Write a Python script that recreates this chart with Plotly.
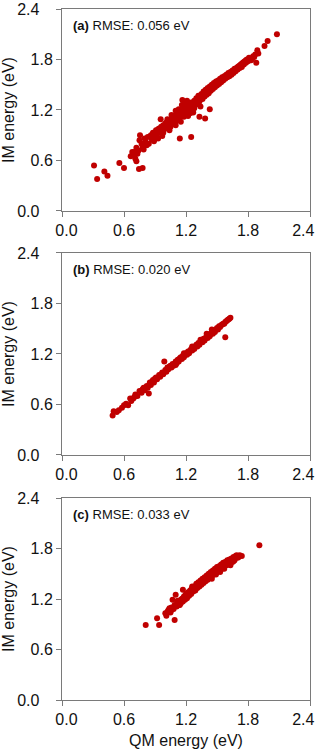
import plotly.graph_objects as go
from plotly.subplots import make_subplots

# (QM energy, IM energy) pairs, eV
points_a = [
    (0.31, 0.54), (0.34, 0.38), (0.41, 0.47), (0.44, 0.42), (0.555, 0.57), (0.60, 0.51),
    (0.745, 0.50), (0.78, 0.51), (0.665, 0.65), (0.70, 0.70), (0.71, 0.62), (0.72, 0.59),
    (0.755, 0.90), (1.14, 0.86), (1.25, 0.88), (1.385, 1.10), (1.43, 1.21), (1.33, 1.12),
    (2.08, 2.10), (1.99, 2.02), (1.96, 1.96), (1.89, 1.91), (1.88, 1.76), (0.955, 1.09),
    (1.165, 1.32), (0.97, 0.89),
    (0.68, 0.70), (0.70, 0.66), (0.72, 0.75), (0.74, 0.72), (0.75, 0.84), (0.77, 0.80),
    (0.78, 0.76), (0.80, 0.86), (0.81, 0.82), (0.83, 0.88), (0.84, 0.80), (0.86, 0.90),
    (0.87, 0.85), (0.88, 0.93), (0.90, 0.88), (0.91, 0.96), (0.92, 0.91), (0.93, 0.86),
    (0.94, 0.98), (0.95, 0.94), (0.96, 1.00), (0.97, 0.95), (0.98, 1.02), (0.99, 0.97),
    (1.00, 1.04), (1.01, 0.99), (1.02, 1.06), (1.03, 1.01), (1.04, 0.96), (1.05, 1.08),
    (1.06, 1.03), (1.07, 1.10), (1.08, 1.05), (1.09, 1.13), (1.10, 1.07), (1.11, 1.15),
    (1.12, 1.10), (1.13, 1.18), (1.14, 1.12), (1.15, 1.06), (1.16, 1.20), (1.17, 1.14),
    (1.18, 1.22), (1.19, 1.17), (1.20, 1.25), (1.21, 1.19), (1.22, 1.13), (1.23, 1.27),
    (1.24, 1.21), (1.25, 1.29), (1.26, 1.23), (1.27, 1.17), (1.28, 1.31), (1.29, 1.26),
    (1.30, 1.34), (1.31, 1.28), (1.32, 1.37), (1.33, 1.30), (1.34, 1.24), (1.35, 1.39),
    (1.36, 1.33), (1.37, 1.42), (1.38, 1.36), (1.39, 1.44), (1.40, 1.38), (1.41, 1.46),
    (1.42, 1.40), (1.43, 1.48), (1.44, 1.43), (1.45, 1.50), (1.46, 1.45), (1.47, 1.52),
    (1.48, 1.47), (1.49, 1.54), (1.50, 1.49), (1.51, 1.55), (1.52, 1.51), (1.53, 1.57),
    (1.54, 1.53), (1.55, 1.59), (1.56, 1.55), (1.57, 1.60), (1.58, 1.57), (1.59, 1.62),
    (1.60, 1.59), (1.61, 1.64), (1.62, 1.60), (1.63, 1.65), (1.64, 1.62), (1.65, 1.67),
    (1.66, 1.64), (1.67, 1.69), (1.68, 1.66), (1.69, 1.70), (1.70, 1.68), (1.71, 1.72),
    (1.72, 1.70), (1.73, 1.74), (1.74, 1.71), (1.75, 1.76), (1.76, 1.74), (1.77, 1.78),
    (1.78, 1.76), (1.79, 1.80), (1.80, 1.78), (1.82, 1.81), (1.83, 1.79), (1.85, 1.84),
    (1.87, 1.86),
    (1.05, 1.00), (1.08, 1.11), (1.10, 1.02), (1.12, 1.16), (1.15, 1.15), (1.18, 1.12),
    (1.20, 1.18), (1.22, 1.23), (1.24, 1.16), (1.26, 1.28), (1.28, 1.22), (1.30, 1.27),
    (1.32, 1.31), (1.34, 1.35), (1.36, 1.37), (1.38, 1.40), (1.40, 1.42), (1.42, 1.44),
    (1.44, 1.46), (1.46, 1.48), (1.48, 1.50), (1.50, 1.52), (1.52, 1.54), (1.54, 1.56),
    (1.56, 1.58), (1.58, 1.60), (1.60, 1.62), (1.62, 1.63), (1.64, 1.65), (1.66, 1.67),
    (1.68, 1.69), (1.70, 1.71), (1.72, 1.73), (1.74, 1.75), (1.76, 1.77), (1.78, 1.79),
    (1.81, 1.82), (1.84, 1.81), (1.86, 1.83), (1.90, 1.87), (1.13, 1.21), (1.19, 1.27),
    (1.02, 1.09), (0.98, 0.93), (0.89, 0.83), (0.82, 0.78), (0.79, 0.73), (0.73, 0.68),
    (1.10, 1.19), (1.16, 1.26), (1.21, 1.31), (1.06, 1.14), (1.01, 1.05), (0.93, 0.97),
]

points_b = [
    (0.99, 1.11), (0.84, 0.73), (1.58, 1.40), (0.49, 0.47), (0.50, 0.52), (0.55, 0.53),
    (0.58, 0.56), (0.62, 0.61), (0.64, 0.59), (0.67, 0.64), (0.69, 0.67), (0.71, 0.72),
    (0.73, 0.70), (0.75, 0.76), (0.77, 0.74), (0.79, 0.80), (0.80, 0.77), (0.82, 0.82),
    (0.83, 0.80), (0.85, 0.86), (0.86, 0.83), (0.88, 0.89), (0.89, 0.86), (0.91, 0.92),
    (0.92, 0.90), (0.94, 0.95), (0.95, 0.93), (0.97, 0.98), (0.98, 0.96), (1.00, 1.01),
    (1.01, 0.99), (1.02, 1.04), (1.03, 1.02), (1.05, 1.06), (1.06, 1.04), (1.07, 1.08),
    (1.08, 1.06), (1.10, 1.11), (1.11, 1.09), (1.12, 1.13), (1.13, 1.11), (1.15, 1.16),
    (1.16, 1.14), (1.17, 1.18), (1.18, 1.16), (1.20, 1.21), (1.21, 1.19), (1.22, 1.23),
    (1.23, 1.21), (1.25, 1.26), (1.26, 1.24), (1.27, 1.28), (1.28, 1.26), (1.30, 1.31),
    (1.31, 1.29), (1.32, 1.33), (1.33, 1.31), (1.35, 1.36), (1.36, 1.34), (1.37, 1.38),
    (1.38, 1.36), (1.40, 1.41), (1.41, 1.39), (1.42, 1.43), (1.43, 1.41), (1.45, 1.46),
    (1.46, 1.44), (1.47, 1.48), (1.48, 1.46), (1.50, 1.51), (1.51, 1.49), (1.52, 1.53),
    (1.54, 1.54), (1.56, 1.56), (1.58, 1.58), (1.60, 1.60), (1.62, 1.62), (1.63, 1.63),
    (0.70, 0.69), (0.78, 0.78), (0.87, 0.87), (0.96, 0.96), (1.04, 1.05), (1.09, 1.08),
    (1.14, 1.15), (1.19, 1.19), (1.24, 1.24), (1.29, 1.29), (1.34, 1.34), (1.39, 1.39),
    (1.44, 1.44), (1.49, 1.49), (1.53, 1.52), (1.57, 1.56), (1.55, 1.55), (1.59, 1.59),
    (1.61, 1.61), (1.45, 1.49), (0.66, 0.67), (0.60, 0.59), (0.53, 0.51),
    (1.18, 1.21), (1.26, 1.29), (1.34, 1.37), (1.40, 1.44), (1.10, 1.07), (0.90, 0.91),
]

points_c = [
    (0.81, 0.89), (0.94, 0.89), (0.92, 0.97), (1.09, 0.95), (1.91, 1.84), (1.07, 1.19),
    (1.10, 1.25), (1.17, 1.31), (1.00, 1.03), (1.01, 1.00), (1.03, 1.07), (1.05, 1.04),
    (1.06, 1.10), (1.08, 1.08), (1.09, 1.13), (1.11, 1.11), (1.12, 1.15), (1.13, 1.13),
    (1.14, 1.18), (1.15, 1.15), (1.16, 1.20), (1.17, 1.17), (1.18, 1.23), (1.19, 1.19),
    (1.20, 1.26), (1.21, 1.21), (1.22, 1.28), (1.23, 1.24), (1.24, 1.30), (1.25, 1.26),
    (1.26, 1.33), (1.27, 1.29), (1.28, 1.35), (1.29, 1.31), (1.30, 1.38), (1.31, 1.33),
    (1.32, 1.40), (1.33, 1.35), (1.34, 1.42), (1.35, 1.37), (1.36, 1.44), (1.37, 1.39),
    (1.38, 1.46), (1.39, 1.41), (1.40, 1.48), (1.41, 1.43), (1.42, 1.50), (1.43, 1.45),
    (1.44, 1.52), (1.45, 1.47), (1.46, 1.54), (1.47, 1.49), (1.48, 1.56), (1.49, 1.51),
    (1.50, 1.58), (1.51, 1.53), (1.52, 1.59), (1.53, 1.55), (1.54, 1.61), (1.55, 1.56),
    (1.56, 1.63), (1.57, 1.58), (1.58, 1.64), (1.59, 1.60), (1.60, 1.66), (1.61, 1.61),
    (1.62, 1.67), (1.63, 1.63), (1.64, 1.68), (1.65, 1.64), (1.66, 1.70), (1.67, 1.66),
    (1.68, 1.71), (1.70, 1.69), (1.72, 1.72), (1.74, 1.71), (1.71, 1.70), (1.69, 1.72),
    (1.66, 1.65), (1.20, 1.22), (1.22, 1.24), (1.24, 1.27), (1.26, 1.29), (1.28, 1.31),
    (1.30, 1.34), (1.32, 1.36), (1.34, 1.38), (1.36, 1.40), (1.38, 1.42), (1.40, 1.44),
    (1.42, 1.46), (1.44, 1.48), (1.46, 1.50), (1.48, 1.52), (1.50, 1.54), (1.52, 1.56),
    (1.54, 1.58), (1.56, 1.60), (1.58, 1.62), (1.60, 1.63), (1.62, 1.65), (1.64, 1.66),
    (1.13, 1.16), (1.15, 1.19), (1.17, 1.21), (1.19, 1.24), (1.21, 1.26), (1.23, 1.28),
    (1.25, 1.31), (1.27, 1.33), (1.29, 1.35), (1.31, 1.37), (1.33, 1.39), (1.35, 1.41),
    (1.37, 1.43), (1.39, 1.45), (1.41, 1.47), (1.43, 1.49), (1.45, 1.51), (1.47, 1.53),
    (1.49, 1.55), (1.51, 1.57), (1.53, 1.59), (1.55, 1.61), (1.57, 1.62), (1.59, 1.64),
    (1.61, 1.65), (1.10, 1.12), (1.06, 1.07), (1.04, 1.09), (1.02, 1.05), (1.12, 1.18),
    (1.14, 1.13), (1.26, 1.35), (1.29, 1.30), (1.49, 1.49), (1.53, 1.52), (1.57, 1.56),
    (1.63, 1.60), (1.45, 1.44),
]

labels = ["(a)", "(b)", "(c)"]
rmse = ["0.056", "0.020", "0.033"]
ticks = [0.0, 0.6, 1.2, 1.8, 2.4]
nb = "\u00a0"
# end labels sit a little inward / further left in the original
x_tick_text = [nb + nb + "0.0", "0.6", "1.2", "1.8", "2.4" + nb * 3]
y_tick_text = ["0.0" + nb * 3, "0.6", "1.2", "1.8", "2.4" + nb * 3]

red = "#C00000"
line_col = "#7a7a7a"
font = "Liberation Sans, Arial, sans-serif"

fig = make_subplots(rows=3, cols=1)

# panel y-domains in paper units (plot area 9..700 px)
domains = [[0.7077, 1.0], [0.3546, 0.6469], [0.0, 0.2923]]

for i, pts in enumerate([points_a, points_b, points_c]):
    qm = [p[0] for p in pts]
    im = [p[1] for p in pts]
    fig.add_trace(go.Scatter(x=qm, y=im, mode="markers",
                             marker=dict(color=red, size=6, line=dict(width=0)),
                             showlegend=False), row=i + 1, col=1)
    fig.update_xaxes(range=[0, 2.4], tickvals=ticks, ticktext=x_tick_text,
                     showline=True, mirror=True, linecolor=line_col, linewidth=1,
                     ticks="outside", ticklen=5, tickcolor=line_col,
                     showgrid=False, zeroline=False, automargin=False,
                     ticklabeloverflow="allow",
                     tickfont=dict(size=16, color="#111", family=font),
                     row=i + 1, col=1)
    fig.update_yaxes(range=[0, 2.4], tickvals=ticks, ticktext=y_tick_text,
                     domain=domains[i],
                     showline=True, mirror=True, linecolor=line_col, linewidth=1,
                     ticks="outside", ticklen=5, tickcolor=line_col,
                     showgrid=False, zeroline=False, automargin=False,
                     ticklabeloverflow="allow",
                     tickfont=dict(size=16, color="#111", family=font),
                     title=dict(text="IM energy (eV)", standoff=3,
                                font=dict(size=16, color="#111", family=font)),
                     row=i + 1, col=1)
    xref = "x domain" if i == 0 else "x%d domain" % (i + 1)
    yref = "y domain" if i == 0 else "y%d domain" % (i + 1)
    fig.add_annotation(text="<b>" + labels[i] + "</b> RMSE: " + rmse[i] + " eV",
                       xref=xref, yref=yref, x=0.035, y=0.92,
                       xanchor="left", yanchor="middle", showarrow=False,
                       font=dict(size=13, color="#111", family=font))

fig.update_xaxes(title=dict(text="QM energy (eV)", standoff=7,
                            font=dict(size=16, color="#111", family=font)),
                 row=3, col=1)

fig.update_layout(width=320, height=752,
                  margin=dict(l=62, r=10, t=9, b=52),
                  plot_bgcolor="white", paper_bgcolor="white",
                  font=dict(family=font))

# drop the browser's default 8px body margin so the figure sits at 0,0
fig.write_html("out.html", config={"displayModeBar": False},
               post_script="document.body.style.margin='0';")
